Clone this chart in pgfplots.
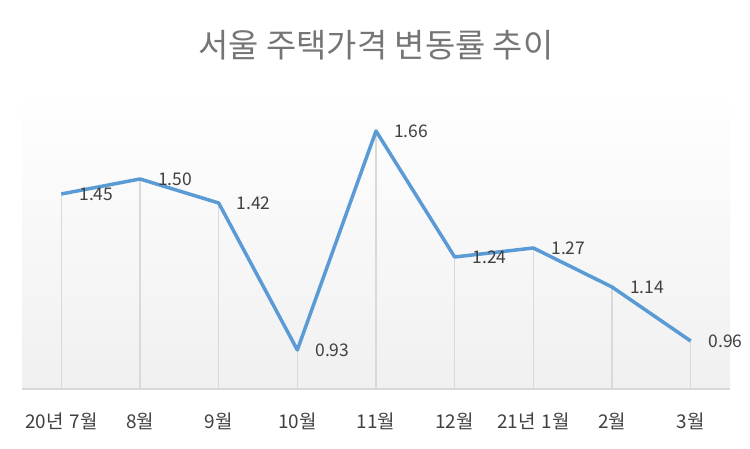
\documentclass[border=0pt]{standalone}
\usepackage{pgfplots}
\pgfplotsset{compat=1.18}
\usepackage{fontspec}
\setmainfont{Noto Sans CJK KR}
\definecolor{lineblue}{HTML}{5B9BD5}
\definecolor{dropgray}{HTML}{D9D9D9}
\definecolor{txt}{HTML}{404040}
\definecolor{ttl}{HTML}{757575}
\definecolor{bgbot}{HTML}{F0F0F0}
\begin{document}
\begin{tikzpicture}[x=1bp,y=1bp]
\useasboundingbox (0,0) rectangle (750,449);
\begin{axis}[
  at={(22bp,60bp)}, anchor=south west,
  width=708bp, height=300bp, scale only axis,
  xmin=-0.5, xmax=8.5, ymin=0.8, ymax=1.8,
  axis x line*=bottom, axis y line=none,
  x axis line style={draw=dropgray, line width=2bp},
  axis background/.style={shade, top color=white, bottom color=bgbot},
  xtick={0,...,8},
  xticklabels={20년\,\,7월,8월,9월,10월,11월,12월,21년\,\,1월,2월,3월},
  major tick length=0pt,
  xticklabel style={font=\fontsize{19}{20}\selectfont, text=txt, yshift=-20bp},
  ytick=\empty,
]
\addplot[ycomb, draw=dropgray, line width=1.6bp, no markers] table {
x y
0 1.45
1 1.50
2 1.42
3 0.93
4 1.66
5 1.24
6 1.27
7 1.14
8 0.96
};
\addplot[draw=lineblue, line width=3.5bp, line join=round, no markers,
  nodes near coords={\pgfmathprintnumber[fixed,fixed zerofill,precision=2,assume math mode=true]{\pgfplotspointmeta}},
  nodes near coords style={anchor=west, xshift=13bp, text=txt, font=\fontsize{17.5}{18}\selectfont},
] table {
x y
0 1.45
1 1.50
2 1.42
3 0.93
4 1.66
5 1.24
6 1.27
7 1.14
8 0.96
};
\end{axis}
\node[text=ttl, font=\fontsize{33}{36}\selectfont] at (376,404) {서울 주택가격 변동률 추이};
\end{tikzpicture}
\end{document}
